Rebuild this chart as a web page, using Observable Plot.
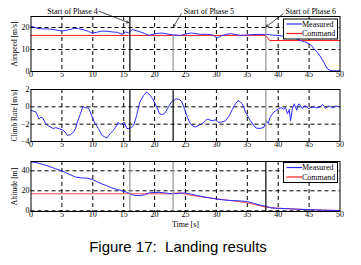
<!DOCTYPE html>
<html><head><meta charset="utf-8">
<script src="https://cdn.jsdelivr.net/npm/d3@7"></script>
<script src="https://cdn.jsdelivr.net/npm/@observablehq/plot@0.6"></script>
<style>
body{margin:0;background:#fff;}
#wrap{position:relative;width:361px;height:265px;overflow:hidden;background:#fff;}
#wrap svg{position:absolute;left:0;overflow:visible;}
#cap{position:absolute;left:0;top:238.5px;width:356px;text-align:center;font:15px "Liberation Sans",Arial,sans-serif;line-height:16px;white-space:pre;color:#000;}
</style></head><body><div id="wrap"><div id="cap">Figure 17:  Landing results</div></div>
<script>
// ---- data ----
const timeTicks = [0,5,10,15,20,25,30,35,40,45,50];
const timeGrid = [5,10,15,20,25,30,35,40,45];
const phaseStarts = [16, 23, 38];
const phaseLabels = ["Start of Phase 4", "Start of Phase 5", "Start of Phase 6"];
const seriesNames = ["Measured", "Command"];

const airT = [0,0.5,1,2,3,4,5,6,7,7.7,8.5,9.3,9.9,10.6,11.5,12.3,13.1,14,14.75,15.3,15.8,16.4,17,17.7,18.4,19.1,20.1,21.2,22.3,23.1,24.2,25,25.8,26.5,27.4,28.5,29.5,30.1,30.8,31.5,32.3,33,33.9,35,36.1,37.2,38.2,39,39.8,41,42,42.8,43.6,44.3,45,45.4,45.8,46.4,46.9,47.4,47.7,48,48.5,49,50];
const airMeas = [20.5,20.2,19.6,19.4,19.3,18.9,18.4,18.9,19.6,19.5,19.0,18.2,17.5,17.8,18.4,18.3,18.0,17.8,16.9,18.0,17.5,19.1,18.6,18.0,17.3,16.4,17.2,17.5,16.9,16.6,16.4,17.0,17.5,17.3,16.9,16.9,16.5,15.2,16.2,16.8,17.2,16.8,16.4,16.6,16.8,16.9,16.8,16.6,16.4,16.0,15.6,15.0,14.1,13.5,12.6,11.8,10.3,8.5,6.5,4.1,2.5,1.1,0.4,0.3,0.3];
const airCmdT = [0,38,38.6,50];
const airCmd = [16.4,16.4,14.1,14.1];

const climbT = [0,0.4,0.8,1.3,1.6,1.9,2.4,2.8,3.2,3.6,4.0,4.6,5.1,5.5,5.9,6.4,6.9,7.2,7.5,8.0,8.4,8.8,9.3,9.6,9.9,10.4,10.9,11.5,11.9,12.3,12.8,13.3,13.9,14.1,14.4,14.7,15.1,15.5,16.0,16.6,17.1,17.6,18.2,18.7,19.2,19.7,20.3,20.8,21.3,21.7,22.1,22.7,23.5,24.0,24.4,24.8,25.3,25.8,26.2,26.6,27.2,27.6,28.0,28.5,28.9,29.3,29.9,30.3,30.7,31.1,31.5,32.1,32.5,32.9,33.5,33.9,34.2,34.7,35.1,35.5,36.0,36.4,37.1,37.7,38.1,38.4,38.7,39.3,39.7,40.1,40.5,40.9,41.2,41.5,41.8,42.0,42.3,42.6,43.0,43.2,43.4,43.9,44.2,44.5,44.9,45.3,45.8,46.2,46.6,47.2,47.7,48.1,48.5,49.0,49.3,50];
const climbRate = [-0.42,-0.5,-0.6,-1.4,-1.2,-1.3,-1.96,-2.2,-2.35,-2.5,-2.4,-2.54,-2.65,-2.9,-3.3,-3.2,-2.9,-2.5,-1.77,-0.8,0.04,-0.1,-0.15,-0.6,-1.2,-1.96,-2.5,-3.3,-3.45,-3.6,-3.1,-2.73,-2.15,-1.8,-2.0,-1.96,-1.8,-2.5,-2.5,-2.15,-1.0,0.54,1.3,1.7,1.4,0.92,0.04,-0.8,-0.9,-0.7,-0.2,0.54,0.92,0.85,0.6,-0.15,-1.2,-1.96,-2.2,-2.35,-2.1,-2.0,-1.77,-1.4,-1.5,-1.6,-1.5,-1.8,-1.77,-1.7,-1.6,-1.0,-0.4,0.15,0.73,0.55,0.35,-0.6,-1.1,-1.6,-2.1,-2.45,-2.5,-2.35,-1.6,-1.9,-1.2,-0.6,-0.4,-0.2,-0.1,-0.3,-0.1,-0.8,-0.3,-1.6,-0.2,0.35,-0.4,0.2,0.35,-0.2,0.1,0.1,-0.2,-0.1,0.0,-0.1,-0.1,0.27,-0.2,0.1,0.0,-0.1,0.1,0.0];

const altT = [0,1,2.4,4,5,6,7.2,8,9,9.9,10.7,11.5,12.3,13.1,14,14.7,15.5,16.4,17,17.7,18.4,19.1,20,20.7,21.8,22.9,24,24.9,26,27.5,29.6,31,32.3,34,35,36,37.2,38,38.8,40,42,44,45.8,48,50];
const altMeas = [49,48,45.6,42,40,37,33.8,33,32.6,31.5,29,26.8,25,22.8,21.3,20.1,18.5,15.9,15.3,15.2,16,17.9,18.3,18.5,17.8,16.9,17.5,17.9,16.5,14.5,12.2,11,10.3,9.8,9.3,7.5,5.5,4.6,2.9,2.5,2,1.3,1,0.5,0.3];
const altCmdT = [0,22.5,23,24.2,25.5,26.9,28.5,30.1,32,35,36.5,38,39.8,42,44.7,47,50];
const altCmd = [17,17,17.6,17.9,16,14.5,13.2,11.9,10.5,7.9,5.8,3.6,2.6,1.9,1.3,0.8,0.3];

// ---- helpers ----
const BLUE = "#2a2aff", RED = "#ff1a1a", GRAY = "#9a9a9a";
const pts = (t, v) => t.map((x, i) => ({t: x, v: v[i]}));
const dash = {stroke: "black", strokeOpacity: 1, strokeWidth: 1, strokeDasharray: "4,3"};
const wrap = document.getElementById("wrap");

function panel({top, height, mt, mb, yDomain, yTicks, yGrid, label, marks, xLabel}) {
  const svg = Plot.plot({
    width: 361, height, marginTop: mt, marginBottom: mb, marginLeft: 30.5, marginRight: 21.5,
    style: {fontFamily: "'Liberation Serif', 'DejaVu Serif', serif", fontSize: "8px", background: "transparent", overflow: "visible", color: "black"},
    x: {domain: [0, 50]},
    y: {domain: yDomain},
    marks: [
      Plot.gridX(timeGrid, dash),
      Plot.gridY(yGrid, dash),
      ...marks,
      Plot.frame({stroke: "black", strokeWidth: 1}),
      Plot.axisX(timeTicks, {tickSize: 0, tickPadding: 0, label: null, fontSize: 8}),
      Plot.axisY(yTicks, {tickSize: 0, tickPadding: 1.5, label: null, fontSize: 8}),
      Plot.text([label], {frameAnchor: "left", rotate: -90, dx: -16, textAnchor: "middle", fontSize: 7.5}),
      xLabel ? Plot.text([xLabel], {frameAnchor: "bottom", dy: 15, textAnchor: "middle", fontSize: 8}) : null
    ]
  });
  svg.style.top = top + "px";
  wrap.appendChild(svg);
  return svg;
}

// Panel 1: Airspeed
panel({
  top: 0, height: 82, mt: 16, mb: 11, yDomain: [0, 25], yTicks: [0, 10, 20], yGrid: [10, 20],
  label: "Airspeed [m/s]",
  marks: [
    Plot.line(pts(airCmdT, airCmd), {x: "t", y: "v", stroke: RED, strokeWidth: 1}),
    Plot.line(pts(airT, airMeas), {x: "t", y: "v", stroke: BLUE, strokeWidth: 1}),
    Plot.ruleX([phaseStarts[0]], {stroke: "black", strokeWidth: 1.2}),
    Plot.ruleX([phaseStarts[1]], {y1: 0, y2: airCmd[0], stroke: GRAY, strokeWidth: 1.3}),
    Plot.ruleX([phaseStarts[2]], {stroke: GRAY, strokeWidth: 1.3}),
    Plot.text([phaseLabels[0]], {x: phaseStarts[0] - 5.2, y: 27.4, textAnchor: "end", fontSize: 8}),
    Plot.text([phaseLabels[1]], {x: phaseStarts[1] + 1.7, y: 27.2, textAnchor: "start", fontSize: 8}),
    Plot.text([phaseLabels[2]], {x: phaseStarts[2] + 3.2, y: 27.2, textAnchor: "start", fontSize: 8}),
    Plot.arrow([0], {x1: phaseStarts[0] - 5.0, y1: 27.4, x2: phaseStarts[0] - 0.2, y2: 22.2, stroke: "black", strokeWidth: 0.7, headLength: 5}),
    Plot.arrow([0], {x1: phaseStarts[1] + 1.3, y1: 26.2, x2: phaseStarts[1] + 0.05, y2: 20.4, stroke: "black", strokeWidth: 0.7, headLength: 5}),
    Plot.arrow([0], {x1: phaseStarts[2] + 2.8, y1: 26.2, x2: phaseStarts[2] + 0.05, y2: 20.3, stroke: "black", strokeWidth: 0.7, headLength: 5})
  ]
});

// Panel 2: Climb rate
panel({
  top: 80, height: 72, mt: 9, mb: 11, yDomain: [-4, 2], yTicks: [-4, -2, 0, 2], yGrid: [-2, 0],
  label: "Climb Rate [m/s]",
  marks: [
    Plot.line(pts(climbT, climbRate), {x: "t", y: "v", stroke: BLUE, strokeWidth: 1}),
    Plot.ruleX([phaseStarts[0], phaseStarts[1]], {stroke: "black", strokeWidth: 1.2}),
    Plot.ruleX([phaseStarts[2]], {stroke: GRAY, strokeWidth: 1.3})
  ]
});

// Panel 3: Altitude
panel({
  top: 152, height: 80, mt: 9, mb: 21, yDomain: [-0.7, 49.3], yTicks: [0, 20, 40], yGrid: [0, 20, 40],
  label: "Altitude [m]", xLabel: "Time [s]",
  marks: [
    Plot.line(pts(altCmdT, altCmd), {x: "t", y: "v", stroke: "#ff5050", strokeWidth: 1}),
    Plot.line(pts(altT, altMeas), {x: "t", y: "v", stroke: BLUE, strokeWidth: 1}),
    Plot.ruleX([phaseStarts[0], phaseStarts[1]], {stroke: GRAY, strokeWidth: 1.3}),
    Plot.ruleX([phaseStarts[2]], {stroke: "black", strokeWidth: 1.2})
  ]
});

// Legends (overlay)
const ov = d3.select(wrap).append("svg").attr("width", 361).attr("height", 265).style("top", "0px");
function legend(y0) {
  const g = ov.append("g").attr("transform", `translate(283.5,${y0})`);
  g.append("rect").attr("width", 54).attr("height", 20).attr("fill", "white").attr("stroke", "black").attr("stroke-width", 1);
  [BLUE, RED].forEach((c, i) => {
    const yy = 5 + i * 9.5;
    g.append("line").attr("x1", 3).attr("x2", 18.5).attr("y1", yy).attr("y2", yy).attr("stroke", c).attr("stroke-width", 1.2);
    g.append("text").attr("x", 18.5).attr("y", yy).attr("dy", "0.32em")
      .attr("font-family", "'Liberation Serif', serif").attr("font-size", 8).text(seriesNames[i]);
  });
}
legend(19);
legend(162.5);
</script>
</body></html>
